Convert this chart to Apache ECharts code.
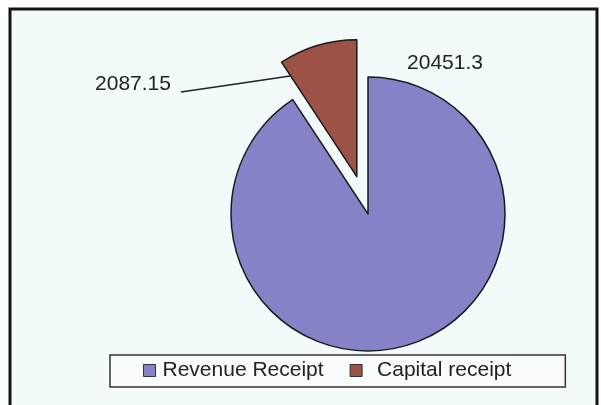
<!DOCTYPE html>
<html>
<head>
<meta charset="utf-8">
<script src="https://cdn.jsdelivr.net/npm/echarts@6/dist/echarts.min.js"></script>
<style>
  html, body { margin: 0; padding: 0; background: #ffffff; }
  #chart { width: 601px; height: 405px; }
</style>
</head>
<body>
<div id="chart"></div>
<script>
// Receipts split into revenue and capital parts
const categories = ['Revenue Receipt', 'Capital receipt'];
const values = [20451.3, 2087.15];
const colors = ['#8682c7', '#9c5246'];

// Where each value label sits on the canvas, and the leader line for the small slice
const labelSpots = [[445, 63], [133, 84]];
const leaderLines = [null, [[290, 76], [236, 84], [181, 92]]];

const FONT = 'Liberation Sans, Arial, sans-serif';
const chart = echarts.init(document.getElementById('chart'), null, { renderer: 'canvas' });

const pieCenter = [368, 214];
const pieRadius = 137;

chart.setOption({
  animation: false,
  textStyle: { fontFamily: FONT },
  graphic: [{
    type: 'rect',
    z: -10,
    shape: { x: 10, y: 9, width: 587, height: 410 },
    style: { fill: '#f3fafa', stroke: '#151515', lineWidth: 3 },
    silent: true
  }],
  legend: {
    left: 110,
    top: 355,
    orient: 'horizontal',
    padding: [5, 54, 6, 33],
    itemGap: 26,
    itemWidth: 12,
    itemHeight: 12,
    icon: 'rect',
    borderColor: '#333',
    borderWidth: 1.5,
    backgroundColor: '#f7fbfb',
    selectedMode: false,
    itemStyle: { borderColor: '#333', borderWidth: 1 },
    textStyle: { fontSize: 21, color: '#222', fontFamily: FONT },
    data: [
      { name: categories[0], textStyle: { padding: [0, 0, 0, 2] } },
      { name: categories[1], textStyle: { padding: [0, 0, 0, 10] } }
    ]
  },
  series: [
    {
      // the slices themselves, with the small one pulled out
      type: 'pie',
      center: pieCenter,
      radius: pieRadius,
      startAngle: 90,
      clockwise: true,
      selectedMode: 'single',
      selectedOffset: 39,
      emphasis: { disabled: true },
      itemStyle: { borderColor: '#1a1a1a', borderWidth: 1.5 },
      label: { show: false },
      labelLine: { show: false },
      data: categories.map((name, i) => ({
        name: name,
        value: values[i],
        selected: i === 1,
        itemStyle: { color: colors[i] }
      }))
    },
    {
      // value labels for the same slices
      type: 'pie',
      center: pieCenter,
      radius: pieRadius,
      startAngle: 90,
      clockwise: true,
      silent: true,
      legendHoverLink: false,
      selectedMode: false,
      emphasis: { disabled: true },
      itemStyle: { color: 'rgba(0,0,0,0)', borderWidth: 0 },
      label: {
        show: true,
        position: 'outside',
        formatter: '{c}',
        fontSize: 21,
        color: '#222',
        fontFamily: FONT
      },
      labelLine: {
        show: true,
        lineStyle: { color: '#222', width: 1.5 }
      },
      labelLayout: function (params) {
        const spot = labelSpots[params.dataIndex];
        const out = { x: spot[0], y: spot[1], align: 'center', verticalAlign: 'middle' };
        const pts = leaderLines[params.dataIndex];
        if (pts) out.labelLinePoints = pts;
        return out;
      },
      data: categories.map((name, i) => ({
        name: name,
        value: values[i],
        labelLine: { show: i === 1 }
      }))
    }
  ]
});
</script>
</body>
</html>
